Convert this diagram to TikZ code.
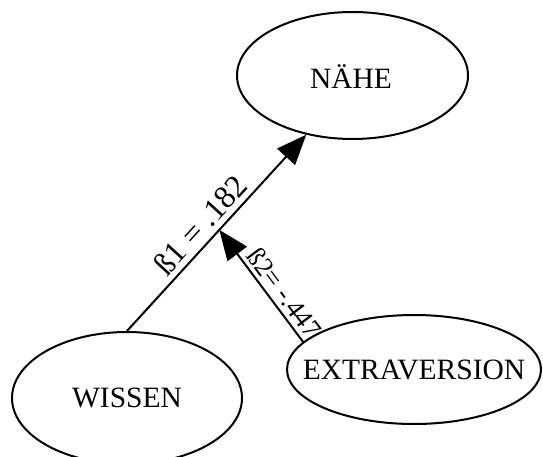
\documentclass[tikz,border=0pt]{standalone}
\usepackage{fontspec}
\setmainfont{Liberation Serif}
\usetikzlibrary{shapes.geometric,arrows.meta}
\begin{document}
\begin{tikzpicture}[x=1pt,y=-1pt,
  oval/.style={draw, ellipse, line width=2pt, inner sep=0pt},
  lbl/.style={font=\fontsize{29.5}{32}\selectfont},
  conn/.style={line width=2pt, -{Triangle[length=30pt,width=24pt]}},
  coef/.style={sloped, inner sep=0pt}]
\useasboundingbox (0,0) rectangle (543,457);
\node[oval, minimum width=231pt, minimum height=127pt] (n) at (352.5,75.5) {};
\node[lbl] (nt) at (351,77) {NÄHE};
\node[oval, minimum width=230pt, minimum height=132pt] (w) at (127,398) {};
\node[lbl] (wt) at (127,398) {WISSEN};
\node[oval, minimum width=254pt, minimum height=109pt] (e) at (414,369.5) {};
\node[lbl] (et) at (414,369.5) {EXTRAVERSION};
\draw[conn] (w.north) -- (n.232.4)
  node[coef, pos=0.48, above=5pt, font=\fontsize{32}{34}\selectfont] (l1) {ß1 = .182};
\path (w.north) -- (n.232.4) coordinate[pos=0.515] (m);
\draw[conn] (e.166) -- (m)
  node[coef, pos=0.36, above=4pt, font=\fontsize{27}{29}\selectfont] (l2) {ß2= -.447};
\end{tikzpicture}
\end{document}
